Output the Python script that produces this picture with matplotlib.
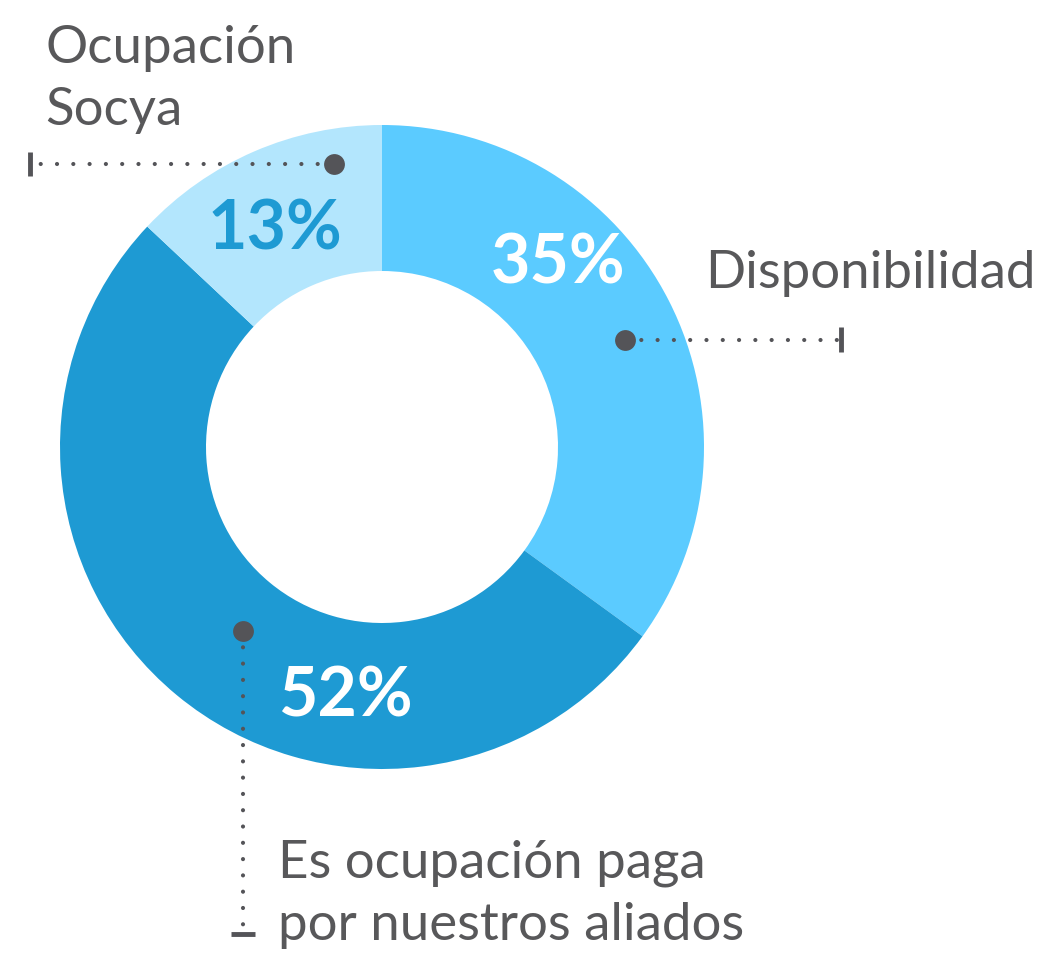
import matplotlib.pyplot as plt

# data
labels = ['Disponibilidad', 'Es ocupación paga\npor nuestros aliados', 'Ocupación\nSocya']
values = [35, 52, 13]
pct_text = ['35%', '52%', '13%']
colors = ['#5BCBFF', '#1E9AD3', '#B3E6FD']
pct_colors = ['white', 'white', '#1E9AD3']

W, H = 1041, 955
fig = plt.figure(figsize=(W / 100, H / 100), dpi=100)
ax = fig.add_axes([0, 0, 1, 1])

def Y(y):
    # convert pixel row (top origin) to data y
    return H - y

cx, cy, R = 382, Y(447), 322
ax.pie(values, colors=colors, startangle=90, counterclock=False,
       center=(cx, cy), radius=R, wedgeprops=dict(width=146, linewidth=0),
       frame=True)
ax.set_xlim(0, W)
ax.set_ylim(0, H)
ax.set_aspect('equal')
ax.axis('off')

txt = '#58585A'
dotc = '#545458'

# percent labels
pct_pos = [(558, 264), (345, 697), (275, 230)]
for (x, y), t, c in zip(pct_pos, pct_text, pct_colors):
    ax.text(x, Y(y), t, color=c, fontsize=49, fontweight='bold', family='Lato',
            ha='center', va='center')

# leader lines (pixel coords)
def leader(p0, p1, cap):
    ax.plot([p0[0], p1[0]], [Y(p0[1]), Y(p1[1])], color=dotc, lw=3,
            linestyle=(0, (0.01, 3.9)), dash_capstyle='round')
    ax.plot(p0[0], Y(p0[1]), 'o', color=dotc, ms=15, mew=0)
    ax.plot([cap[0][0], cap[1][0]], [Y(cap[0][1]), Y(cap[1][1])], color=dotc,
            lw=3.5, solid_capstyle='butt')

leader((334, 164), (32, 164), ((30, 152), (30, 176)))
leader((625, 340), (838, 340), ((841, 327), (841, 352)))
leader((243, 631), (243, 930), ((231, 934), (255, 934)))

# category labels (va='baseline' -> baseline of the last line)
ax.text(45, Y(125), labels[2], color=txt, fontsize=38, family='Lato',
        fontweight='normal', ha='left', va='baseline', linespacing=1.4)
ax.text(705, Y(288), labels[0], color=txt, fontsize=38, family='Lato',
        fontweight='normal', ha='left', va='baseline')
ax.text(278, Y(940), labels[1], color=txt, fontsize=38, family='Lato',
        fontweight='normal', ha='left', va='baseline', linespacing=1.4)

fig.savefig('out.png', dpi=100)
